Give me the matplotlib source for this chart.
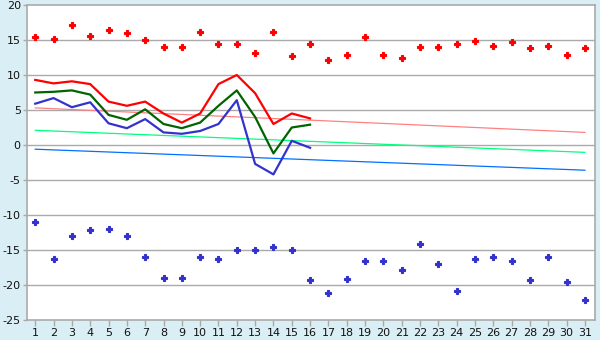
import matplotlib
matplotlib.use("Agg")
import matplotlib.pyplot as plt

plt.rcParams["axes.unicode_minus"] = False

days = list(range(1, 32))

# daily record highs / lows (scatter)
record_high = [15.4, 15.2, 17.2, 15.6, 16.5, 16.0, 15.0, 14.0, 14.0, 16.1,
               14.4, 14.4, 13.2, 16.1, 12.7, 14.4, 12.2, 12.8, 15.4, 12.8,
               12.4, 14.0, 14.0, 14.4, 14.8, 14.2, 14.7, 13.8, 14.1, 12.8, 13.8]
record_low = [-11.0, -16.3, -13.0, -12.2, -12.0, -13.0, -16.0, -19.0, -19.0, -16.0,
              -16.3, -15.0, -15.0, -14.6, -15.0, -19.3, -21.2, -19.2, -16.6, -16.6,
              -17.8, -14.2, -17.0, -20.8, -16.3, -16.0, -16.6, -19.3, -16.0, -19.5, -22.2]

# current month, days 1-16
cur_days = list(range(1, 17))
cur_max = [9.3, 8.8, 9.1, 8.7, 6.2, 5.6, 6.2, 4.5, 3.2, 4.5, 8.7, 10.0, 7.4, 3.0, 4.5, 3.8]
cur_mean = [7.5, 7.6, 7.8, 7.2, 4.3, 3.6, 5.1, 3.0, 2.4, 3.2, 5.6, 7.8, 4.0, -1.2, 2.5, 2.9]
cur_min = [5.9, 6.7, 5.4, 6.1, 3.1, 2.4, 3.7, 1.8, 1.6, 2.0, 3.0, 6.4, -2.7, -4.2, 0.6, -0.4]

# long-term normals (start / end of month)
norm_days = [1, 31]
norm_max = [5.3, 1.8]
norm_mean = [2.1, -1.05]
norm_min = [-0.6, -3.6]

bg = "#daeff5"
grid_c = "#aaaaaa"

fig = plt.figure(figsize=(6, 3.4), dpi=100, facecolor=bg)
ax = fig.add_axes([27 / 600, 20 / 340, 568 / 600, 315 / 340])
ax.set_facecolor("white")

for y in range(-20, 20, 5):
    ax.axhline(y, color=grid_c, lw=1.0, zorder=0)

ax.plot(norm_days, norm_max, color="#ff8080", lw=0.9, zorder=2)
ax.plot(norm_days, norm_mean, color="#00ff80", lw=0.9, zorder=2)
ax.plot(norm_days, norm_min, color="#0070ff", lw=0.9, zorder=2)

ax.plot(cur_days, cur_max, color="#ff0000", lw=1.6, zorder=3)
ax.plot(cur_days, cur_mean, color="#006400", lw=1.6, zorder=3)
ax.plot(cur_days, cur_min, color="#3333cc", lw=1.6, zorder=3)

ax.plot(days, record_high, ls="none", marker="P", ms=4.5, color="#ff0000", mew=0.8, zorder=4)
ax.plot(days, record_low, ls="none", marker="P", ms=4.5, color="#3333cc", mew=0.8, zorder=4)

ax.set_xlim(0.55, 31.55)
ax.set_ylim(-25, 20)
ax.set_xticks(days)
ax.set_yticks(range(-25, 21, 5))
ax.tick_params(axis="both", colors=grid_c, labelcolor="#111111", labelsize=8,
               length=4, width=1.0, pad=2)
ax.tick_params(axis="y", length=3, pad=1.5)

for side in ["left", "right", "top", "bottom"]:
    ax.spines[side].set_color(grid_c)
    ax.spines[side].set_linewidth(1.2)

fig.savefig("out.png", dpi=100, facecolor=bg)
